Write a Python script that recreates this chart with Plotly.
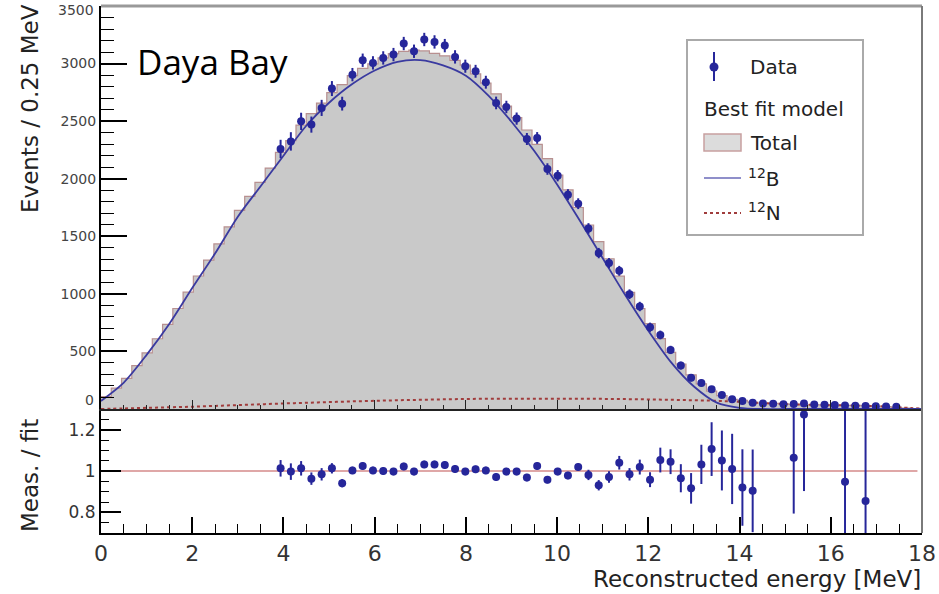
import plotly.graph_objects as go

# ---------------- data ----------------
BIN_W = 0.225
N_BINS = 80
edges = [round(i * BIN_W, 4) for i in range(N_BINS + 1)]
centers = [round((i + 0.5) * BIN_W, 4) for i in range(N_BINS)]

# best-fit total model, one value per bin
model_total = [107, 181, 266, 376, 487, 610, 735, 873, 1015, 1155,
               1293, 1434, 1581, 1725, 1847, 1969, 2092, 2229, 2331, 2466,
               2565, 2657, 2747, 2818, 2895, 2958, 2997, 3049, 3087, 3106,
               3116, 3110, 3089, 3067, 3028, 2986, 2910, 2830, 2737, 2631,
               2530, 2423, 2299, 2175, 2032, 1903, 1750, 1598, 1454, 1305,
               1154, 1013, 873, 741, 611, 491, 391, 297, 219, 155,
               116, 83, 76, 61, 52, 48, 45, 41, 37, 36,
               35, 34, 32, 31, 30, 26, 20, 14, 8, 3]

# data points: bins 17 .. 77
data_first_bin = 17
data_counts = [2258, 2324, 2498, 2470, 2615, 2783, 2652, 2904, 3029, 3006,
               3049, 3078, 3174, 3107, 3209, 3188, 3156, 3058, 2977, 2933,
               2838, 2658, 2623, 2522, 2345, 2354, 2084, 2026, 1861, 1783,
               1568, 1354, 1267, 1200, 997, 890, 710, 643, 513, 377,
               272, 226, 171, 122, 84, 70, 55, 48, 45, 42,
               44, 47, 38, 36, 34, 30, 28, 26, 24, 22, 20]
data_err = [80, 80, 75, 70, 70, 65, 60, 58, 58, 58,
            58, 58, 58, 58, 58, 58, 58, 58, 57, 56,
            56, 55, 54, 53, 52, 51, 50, 49, 48, 47,
            46, 45, 44, 43, 42, 41, 40, 38, 36, 34,
            32, 30, 28, 26, 24, 22, 20, 15, 14, 13,
            13, 13, 12, 12, 11, 10, 10, 9, 9, 8, 8]

# ratio data / fit
ratio_bins = list(range(17, 64)) + [67, 68, 72, 74]
ratio_vals = [1.013, 0.997, 1.013, 0.963, 0.984, 1.013, 0.941, 1.003, 1.024, 1.003,
              1.000, 0.997, 1.022, 0.997, 1.032, 1.032, 1.029, 1.010, 0.997, 1.008,
              1.003, 0.971, 0.997, 0.997, 0.968, 1.024, 0.958, 0.997, 0.978, 1.019,
              0.981, 0.931, 0.971, 1.040, 0.984, 1.019, 0.958, 1.053, 1.045, 0.965,
              0.916, 1.032, 1.106, 1.051, 1.010, 0.920, 0.904,
              1.064, 1.273, 0.948, 0.855]
ratio_err = [0.040, 0.040, 0.035, 0.030, 0.030, 0.025, 0.020, 0.018, 0.018, 0.018,
             0.018, 0.018, 0.018, 0.018, 0.018, 0.018, 0.018, 0.018, 0.018, 0.018,
             0.018, 0.018, 0.018, 0.018, 0.018, 0.018, 0.018, 0.018, 0.018, 0.018,
             0.025, 0.025, 0.028, 0.033, 0.030, 0.036, 0.036, 0.060, 0.060, 0.068,
             0.074, 0.095, 0.130, 0.145, 0.170, 0.185, 0.200,
             0.27, 0.37, 0.50, 0.60]

# fit components sampled every 0.5 MeV
curve_energy = [0.5 * i for i in range(37)]
b12_curve = [70, 230, 470, 740, 1050, 1350, 1670, 1935, 2200, 2460,
             2660, 2820, 2940, 3015, 3030, 2985, 2895, 2720, 2495, 2240,
             1950, 1635, 1310, 985, 680, 405, 195, 55, 10, 0,
             0, 0, 0, 0, 0, 0, 0]
n12_curve = [0, 5, 10, 15, 20, 27, 34, 41, 48, 54,
             60, 66, 71, 76, 80, 84, 87, 89, 90, 90,
             90, 89, 88, 86, 83, 80, 76, 71, 62, 51,
             43, 37, 33, 30, 25, 14, 3]

x_ticks = [0, 2, 4, 6, 8, 10, 12, 14, 16, 18]
y_top_ticks = [500, 1000, 1500, 2000, 2500, 3000, 3500]
y_top_labels = ["500", "1000", "1500", "2000", "2500", "3000", ""]

# ---------------- styling ----------------
W, H = 939, 594
L, R, T, B = 101, 922, 6, 533
SPLIT = 409
dom_split = (B - SPLIT) / (B - T)


def px(x):
    return (x - L) / (R - L)


def py(y):
    return (B - y) / (B - T)


ROOT_FONT = "DejaVu Sans"
DATA_COL = "#26269a"
B_COL = "#3a3aa0"
N_COL = "#a03c3c"
FILL_COL = "#c9c9c9"
EDGE_COL = "#b89090"

data_x = centers[data_first_bin:data_first_bin + len(data_counts)]
ratio_x = [centers[i] for i in ratio_bins]

fig = go.Figure()

fig.add_trace(go.Scatter(
    x=edges, y=model_total + [model_total[-1]], mode="lines", line_shape="hv",
    fill="tozeroy", fillcolor=FILL_COL, line=dict(color=EDGE_COL, width=1.2),
    xaxis="x2", yaxis="y2", hoverinfo="skip"))
fig.add_trace(go.Scatter(
    x=curve_energy, y=n12_curve, mode="lines", line_shape="spline",
    line=dict(color=N_COL, width=2, dash="dot"), xaxis="x2", yaxis="y2"))
fig.add_trace(go.Scatter(
    x=curve_energy, y=b12_curve, mode="lines", line_shape="spline",
    line=dict(color=B_COL, width=1.8, smoothing=0.8), xaxis="x2", yaxis="y2"))
fig.add_trace(go.Scatter(
    x=data_x, y=data_counts, mode="markers",
    marker=dict(color=DATA_COL, size=8),
    error_y=dict(type="data", array=data_err, color=DATA_COL, thickness=2, width=0),
    xaxis="x2", yaxis="y2"))
fig.add_trace(go.Scatter(
    x=ratio_x, y=ratio_vals, mode="markers",
    marker=dict(color=DATA_COL, size=8),
    error_y=dict(type="data", array=ratio_err, color=DATA_COL, thickness=2, width=0),
    xaxis="x", yaxis="y"))

tickfont_x = dict(family=ROOT_FONT, size=22, color="#333")
top_tick_font = dict(family=ROOT_FONT, size=14, color="#444")

fig.update_layout(
    width=W, height=H, autosize=False,
    margin=dict(l=L, r=W - R, t=T, b=H - B, pad=0, autoexpand=False),
    paper_bgcolor="white", plot_bgcolor="white",
    showlegend=False,
    xaxis=dict(domain=[0, 1], anchor="y", range=[0, 18], tickvals=x_ticks,
               ticks="inside", ticklen=16, tickwidth=1.5, tickcolor="black",
               minor=dict(ticks="inside", ticklen=9, dtick=0.5, tick0=0,
                          tickcolor="black", tickwidth=1.2, showgrid=False),
               showline=True, linecolor="black", linewidth=2, automargin=False,
               showgrid=False, zeroline=False, tickfont=tickfont_x,
               ticklabeloverflow="allow"),
    yaxis=dict(domain=[0, dom_split], anchor="x", range=[0.7, 1.3],
               tickvals=[0.8, 1.0, 1.2], ticktext=["0.8", "1", "1.2"],
               ticks="inside", ticklen=20, tickwidth=1.5, tickcolor="black",
               minor=dict(ticks="inside", ticklen=8, dtick=0.05, tick0=0,
                          tickcolor="black", tickwidth=1.2, showgrid=False),
               showline=True, linecolor="black", linewidth=2, automargin=False,
               showgrid=False, zeroline=False,
               tickfont=dict(family=ROOT_FONT, size=17, color="#333")),
    xaxis2=dict(domain=[0, 1], anchor="y2", range=[0, 18], matches="x",
                tickvals=x_ticks, showticklabels=False,
                ticks="inside", ticklen=9, tickwidth=1.2, tickcolor="#222",
                minor=dict(ticks="inside", ticklen=4, dtick=0.5, tick0=0,
                           tickcolor="#222", tickwidth=1, showgrid=False),
                showline=True, linecolor="#222", linewidth=1.5, automargin=False,
                showgrid=False, zeroline=False),
    yaxis2=dict(domain=[dom_split, 1], anchor="x2", range=[0, 3500],
                tickvals=y_top_ticks, ticktext=y_top_labels,
                ticks="inside", ticklen=26, tickwidth=1.5, tickcolor="black",
                minor=dict(ticks="inside", ticklen=13, dtick=100, tick0=0,
                           tickcolor="black", tickwidth=1.2, showgrid=False),
                showline=True, linecolor="black", linewidth=2, automargin=False,
                showgrid=False, zeroline=False, ticklabeloverflow="allow",
                tickfont=top_tick_font),
)

shapes = [
    # ratio = 1 reference line
    dict(type="line", xref="x", yref="y", x0=0, x1=17.9, y0=1, y1=1,
         line=dict(color="#c05050", width=1.2), layer="below"),
    # frame: grey top and right borders
    dict(type="line", xref="paper", yref="paper", x0=0, x1=1, y0=1, y1=1,
         line=dict(color="#999999", width=3)),
    dict(type="line", xref="paper", yref="paper", x0=1, x1=1, y0=0, y1=1,
         line=dict(color="#7a7a7a", width=2)),
    # legend box
    dict(type="rect", xref="paper", yref="paper", x0=px(687), x1=px(863),
         y0=py(235), y1=py(40), line=dict(color="#aaaaaa", width=2),
         fillcolor="white"),
    # legend: data symbol
    dict(type="line", xref="paper", yref="paper", x0=px(714), x1=px(714),
         y0=py(81), y1=py(52), line=dict(color=DATA_COL, width=2)),
    dict(type="circle", xref="paper", yref="paper", x0=px(709.5), x1=px(718.5),
         y0=py(71.5), y1=py(62.5), fillcolor=DATA_COL, line=dict(width=0)),
    # legend: total box
    dict(type="rect", xref="paper", yref="paper", x0=px(704), x1=px(741),
         y0=py(151), y1=py(134), fillcolor="#dcdcdc",
         line=dict(color="#c8a0a0", width=1.5)),
    # legend: 12B line
    dict(type="line", xref="paper", yref="paper", x0=px(704), x1=px(741),
         y0=py(178), y1=py(178), line=dict(color="#6a6ab8", width=1.5)),
    # legend: 12N line
    dict(type="line", xref="paper", yref="paper", x0=px(704), x1=px(741),
         y0=py(213), y1=py(213), line=dict(color=N_COL, width=2, dash="dot")),
]
fig.update_layout(shapes=shapes)

leg_font = dict(family=ROOT_FONT, size=20, color="#222")
ann = [
    dict(text="Data", x=px(748), y=py(67), xanchor="left", yanchor="middle"),
    dict(text="Best fit model", x=px(702), y=py(109), xanchor="left", yanchor="middle"),
    dict(text="Total", x=px(748), y=py(143), xanchor="left", yanchor="middle"),
    dict(text="<sup>12</sup>B", x=px(746), y=py(178), xanchor="left", yanchor="middle"),
    dict(text="<sup>12</sup>N", x=px(746), y=py(212), xanchor="left", yanchor="middle"),
]
annotations = []
for a in ann:
    a.update(xref="paper", yref="paper", showarrow=False, font=leg_font)
    annotations.append(a)

title_font = dict(family=ROOT_FONT, size=23, color="#222")
annotations += [
    dict(text="Reconstructed energy [MeV]", x=px(923), y=py(579), xref="paper",
         yref="paper", xanchor="right", yanchor="middle", showarrow=False,
         font=title_font),
    dict(text="Events / 0.25 MeV", x=px(30), y=py(109), xref="paper",
         yref="paper", xanchor="center", yanchor="middle", textangle=-90,
         showarrow=False, font=title_font),
    dict(text="Meas. / fit", x=px(30), y=py(476), xref="paper",
         yref="paper", xanchor="center", yanchor="middle", textangle=-90,
         showarrow=False, font=title_font),
    # end-of-axis labels of the upper panel, nudged as ROOT does
    dict(text="0", x=px(96), y=py(400), xref="paper", yref="paper",
         xanchor="right", yanchor="middle", showarrow=False, font=top_tick_font),
    dict(text="3500", x=px(96), y=py(0), xref="paper", yref="paper",
         xanchor="right", yanchor="top", showarrow=False, font=top_tick_font),
    dict(text="Daya Bay", x=px(135), y=py(61), xref="paper", yref="paper",
         xanchor="left", yanchor="middle", showarrow=False,
         font=dict(family="Open Sans", size=35, color="black")),
]
fig.update_layout(annotations=annotations)

fig.write_html("out.html")
